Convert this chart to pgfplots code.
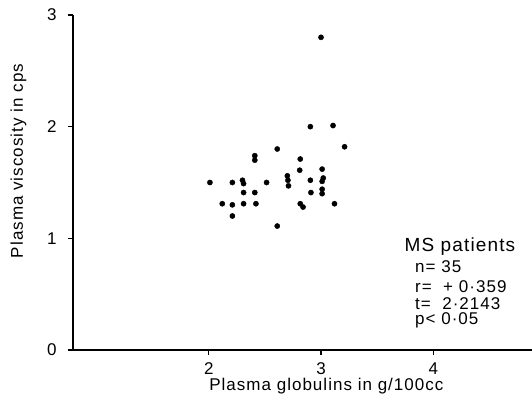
\documentclass[border=0pt]{standalone}
\usepackage{fontspec}
\setmainfont{Liberation Sans}[LetterSpace=6]
\usepackage{pgfplots}
\pgfplotsset{compat=1.18}
\begin{document}
\begin{tikzpicture}
\begin{axis}[
  scale only axis,
  width=459pt, height=335pt,
  xmin=0.79, xmax=4.88, ymin=0, ymax=3,
  axis x line=bottom, axis y line=left,
  axis line style={-, line width=1.2pt},
  xtick={2,3,4}, ytick={0,1,2,3},
  tick align=outside, major tick length=5pt,
  tick style={black, line width=1.2pt},
  /pgf/number format/assume math mode=true,
  tick label style={font=\fontsize{17}{20}\selectfont},
  label style={font=\fontsize{17}{20}\selectfont},
  yticklabel style={xshift=-8pt},
  xticklabel style={yshift=-4pt},
  xlabel={Plasma globulins in g/100cc},
  ylabel={Plasma viscosity in cps},
  xlabel style={at={(axis description cs:0.552,0)}, anchor=base, yshift=-40pt},
  ylabel style={at={(axis description cs:-0.109,0.564)}, anchor=base},
  clip=false,
]
\addplot[only marks, mark=*, mark size=2.6pt, black] coordinates {
(2.905,2.00) (3.107,2.01) (3.21,1.82) (2.61,1.80) (2.41,1.74) (2.41,1.70)
(2.815,1.71) (2.81,1.61) (3.01,1.62) (2.01,1.50) (2.21,1.50) (2.30,1.52)
(2.31,1.49) (2.515,1.50) (2.70,1.56) (2.705,1.52) (2.71,1.47) (2.905,1.52)
(3.02,1.54) (3.01,1.51) (3.01,1.44) (3.01,1.40) (2.31,1.41) (2.41,1.41)
(2.91,1.41) (2.12,1.31) (2.21,1.30) (2.31,1.31) (2.42,1.31) (2.815,1.31)
(2.84,1.28) (3.12,1.31) (2.21,1.20) (2.61,1.11) (3.00,2.80)
};
\node[anchor=base, font=\fontsize{19}{20}\selectfont] at (rel axis cs:0.843,0.293) {MS patients};
\node[anchor=base west, font=\fontsize{17}{18}\selectfont, inner sep=0pt] at (rel axis cs:0.745,0.230) {n= 35};
\node[anchor=base west, font=\fontsize{17}{18}\selectfont, inner sep=0pt] at (rel axis cs:0.745,0.173) {r=\ \ + 0·359};
\node[anchor=base west, font=\fontsize{17}{18}\selectfont, inner sep=0pt] at (rel axis cs:0.745,0.122) {t=\ \ 2·2143};
\node[anchor=base west, font=\fontsize{17}{18}\selectfont, inner sep=0pt] at (rel axis cs:0.745,0.075) {p< 0·05};
\end{axis}
\pgfresetboundingbox
\path (current axis.south west) ++(-73pt,-46pt) rectangle ([yshift=15pt]current axis.north east);
\end{tikzpicture}
\end{document}
